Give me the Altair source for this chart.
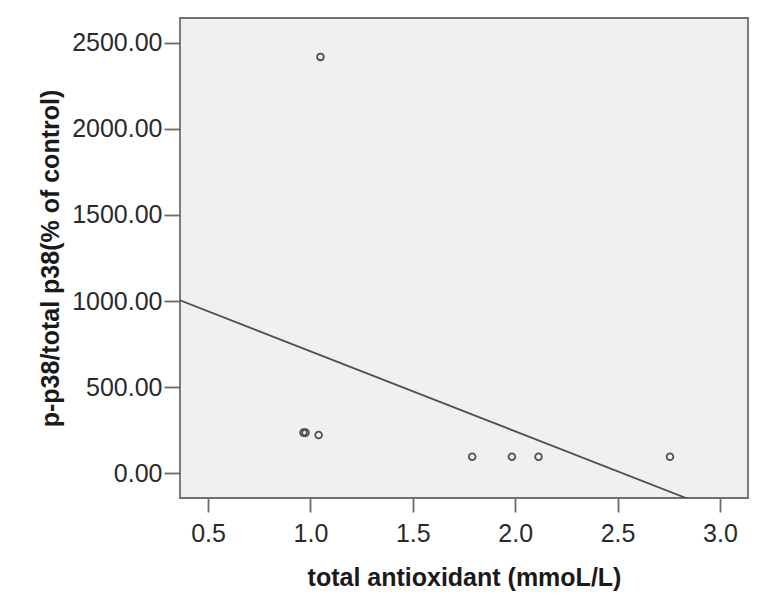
import altair as alt
import pandas as pd

# data
antioxidant = [0.966, 0.976, 1.040, 1.049, 1.790, 1.984, 2.114, 2.756]
p38_ratio = [235, 235, 221, 2419, 95, 95, 95, 95]

x_ticks = [0.5, 1.0, 1.5, 2.0, 2.5, 3.0]
y_ticks = [0, 500, 1000, 1500, 2000, 2500]

df = pd.DataFrame({"x": antioxidant, "y": p38_ratio})

FONT = "Liberation Sans"
x_dom = [0.363, 3.137]
y_dom = [-145, 2645]

xscale = alt.Scale(domain=x_dom, nice=False, zero=False)
yscale = alt.Scale(domain=y_dom, nice=False, zero=False)

xaxis = alt.Axis(
    title="total antioxidant (mmoL/L)", values=x_ticks, format=".1f",
    grid=False, domain=False, tickSize=14, tickWidth=1.8, tickColor="#6a6a6a",
    labelFont=FONT, labelFontSize=25, labelColor="#2a2a2a",
    labelBaseline="alphabetic", labelPadding=29,
    titleFont=FONT, titleFontSize=25, titleFontWeight="bold", titleColor="#1a1a1a",
    titleBaseline="alphabetic", titleY=87,
)
yaxis = alt.Axis(
    title="p-p38/total p38(% of control)", values=y_ticks, format=".2f",
    grid=False, domain=False, tickSize=16, tickWidth=1.8, tickColor="#6a6a6a",
    labelFont=FONT, labelFontSize=25, labelColor="#2a2a2a", labelPadding=2,
    titleFont=FONT, titleFontSize=25, titleFontWeight="bold", titleColor="#1a1a1a",
    titleX=-117, titleY=240, titleBaseline="bottom",
)

points = alt.Chart(df).mark_point(
    shape="circle", filled=False, size=45, strokeWidth=1.8, color="#505050", opacity=1
).encode(
    x=alt.X("x:Q", scale=xscale, axis=xaxis),
    y=alt.Y("y:Q", scale=yscale, axis=yaxis),
)

line = alt.Chart(df).transform_regression(
    "x", "y", extent=[x_dom[0], 3.3]
).mark_line(color="#505050", strokeWidth=1.8, clip=True).encode(
    x=alt.X("x:Q", scale=xscale),
    y=alt.Y("y:Q", scale=yscale),
)

chart = alt.layer(line, points).properties(
    width=568, height=480,
    autosize=alt.AutoSizeParams(type="none"),
    padding={"left": 172, "top": 10, "right": 12, "bottom": 100},
    background="white",
).configure_view(
    fill="#f0f0f0", stroke="#707070", strokeWidth=1.8
)

chart.save("out.html", embed_options={"renderer": "svg", "actions": False})
